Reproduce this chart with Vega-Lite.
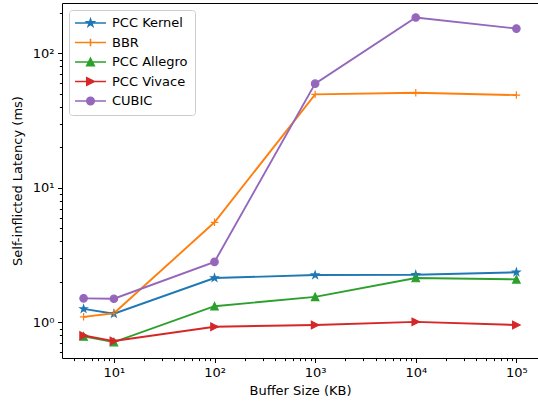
{
  "$schema": "https://vega.github.io/schema/vega-lite/v6.json",
  "width": 476,
  "height": 355,
  "autosize": "none",
  "padding": {"left": 62, "top": 3, "right": 0, "bottom": 46},
  "config": {
    "font": "DejaVu Sans",
    "view": {"stroke": "black", "strokeWidth": 1},
    "axis": {
      "domain": false,
      "grid": false,
      "tickColor": "black",
      "tickWidth": 1,
      "labelColor": "black",
      "titleColor": "black",
      "labelFontSize": 13,
      "titleFontSize": 13,
      "titleFontWeight": "normal",
      "labelOverlap": false,
      "labelFlush": false,
      "labelPadding": 3.5
    }
  },
  "data": {
    "values": [
      {"series": "PCC Kernel", "buffer": 5, "latency": 1.26},
      {"series": "PCC Kernel", "buffer": 10, "latency": 1.16},
      {"series": "PCC Kernel", "buffer": 100, "latency": 2.14},
      {"series": "PCC Kernel", "buffer": 1000, "latency": 2.25},
      {"series": "PCC Kernel", "buffer": 10000, "latency": 2.26},
      {"series": "PCC Kernel", "buffer": 100000, "latency": 2.36},
      {"series": "BBR", "buffer": 5, "latency": 1.10},
      {"series": "BBR", "buffer": 10, "latency": 1.17},
      {"series": "BBR", "buffer": 100, "latency": 5.55},
      {"series": "BBR", "buffer": 1000, "latency": 49.6},
      {"series": "BBR", "buffer": 10000, "latency": 51},
      {"series": "BBR", "buffer": 100000, "latency": 49},
      {"series": "PCC Allegro", "buffer": 5, "latency": 0.787},
      {"series": "PCC Allegro", "buffer": 10, "latency": 0.714},
      {"series": "PCC Allegro", "buffer": 100, "latency": 1.32},
      {"series": "PCC Allegro", "buffer": 1000, "latency": 1.55},
      {"series": "PCC Allegro", "buffer": 10000, "latency": 2.14},
      {"series": "PCC Allegro", "buffer": 100000, "latency": 2.09},
      {"series": "PCC Vivace", "buffer": 5, "latency": 0.80},
      {"series": "PCC Vivace", "buffer": 10, "latency": 0.727},
      {"series": "PCC Vivace", "buffer": 100, "latency": 0.929},
      {"series": "PCC Vivace", "buffer": 1000, "latency": 0.957},
      {"series": "PCC Vivace", "buffer": 10000, "latency": 1.01},
      {"series": "PCC Vivace", "buffer": 100000, "latency": 0.957},
      {"series": "CUBIC", "buffer": 5, "latency": 1.51},
      {"series": "CUBIC", "buffer": 10, "latency": 1.50},
      {"series": "CUBIC", "buffer": 100, "latency": 2.82},
      {"series": "CUBIC", "buffer": 1000, "latency": 59.6},
      {"series": "CUBIC", "buffer": 10000, "latency": 185},
      {"series": "CUBIC", "buffer": 100000, "latency": 153}
    ]
  },
  "encoding": {
    "x": {
      "field": "buffer",
      "type": "quantitative",
      "title": "Buffer Size (KB)",
      "scale": {"type": "log", "domain": [3.05, 164000], "nice": false},
      "axis": {
        "values": [4,5,6,7,8,9,10,20,30,40,50,60,70,80,90,100,200,300,400,500,600,700,800,900,1000,2000,3000,4000,5000,6000,7000,8000,9000,10000,20000,30000,40000,50000,60000,70000,80000,90000,100000],
        "labelExpr": "datum.value==10?'10¹':datum.value==100?'10²':datum.value==1000?'10³':datum.value==10000?'10⁴':datum.value==100000?'10⁵':''",
        "tickSize": {"condition": {"test": "indexof([1,10,100,1000,10000,100000], datum.value) >= 0", "value": 4.5}, "value": 2.6},
        "titlePadding": 5
      }
    },
    "y": {
      "field": "latency",
      "type": "quantitative",
      "title": "Self-inflicted Latency (ms)",
      "scale": {"type": "log", "domain": [0.544, 237], "nice": false},
      "axis": {
        "values": [0.6,0.7,0.8,0.9,1,2,3,4,5,6,7,8,9,10,20,30,40,50,60,70,80,90,100,200],
        "labelExpr": "datum.value==1?'10⁰':datum.value==10?'10¹':datum.value==100?'10²':''",
        "tickSize": {"condition": {"test": "indexof([1,10,100,1000,10000,100000], datum.value) >= 0", "value": 4.5}, "value": 2.6},
        "titlePadding": 8
      }
    },
    "color": {
      "field": "series",
      "type": "nominal",
      "scale": {
        "domain": ["PCC Kernel", "BBR", "PCC Allegro", "PCC Vivace", "CUBIC"],
        "range": ["#1f77b4", "#ff7f0e", "#2ca02c", "#d62728", "#9467bd"]
      },
      "legend": null
    }
  },
  "layer": [
    {
      "mark": {"type": "line", "strokeWidth": 1.9}
    },
    {
      "mark": {"type": "point", "filled": true, "size": 56, "strokeWidth": 1.2, "opacity": 1},
      "encoding": {
        "shape": {
          "field": "series",
          "type": "nominal",
          "scale": {
            "domain": ["PCC Kernel", "BBR", "PCC Allegro", "PCC Vivace", "CUBIC"],
            "range": [
              "M0,-1L0.2245,-0.309L0.951,-0.309L0.363,0.118L0.588,0.809L0,0.382L-0.588,0.809L-0.363,0.118L-0.951,-0.309L-0.2245,-0.309Z",
              "M-1,0H1M0,-1V1",
              "M0,-1L1,1L-1,1Z",
              "M1,0L-1,-1L-1,1Z",
              "M1,0A1,1,0,1,1,-1,0A1,1,0,1,1,1,0Z"
            ]
          },
          "legend": null
        },
        "stroke": {
          "field": "series",
          "type": "nominal",
          "scale": {
            "domain": ["PCC Kernel", "BBR", "PCC Allegro", "PCC Vivace", "CUBIC"],
            "range": ["#1f77b4", "#ff7f0e", "#2ca02c", "#d62728", "#9467bd"]
          },
          "legend": null
        }
      }
    },
    {
      "mark": {"type": "point", "filled": true, "opacity": 0, "size": 56},
      "encoding": {
        "shape": {
          "field": "series",
          "type": "nominal",
          "scale": {
            "domain": ["PCC Kernel", "BBR", "PCC Allegro", "PCC Vivace", "CUBIC"],
            "range": [
              "M-4.14,0H4.14M0,-1L0.2245,-0.309L0.951,-0.309L0.363,0.118L0.588,0.809L0,0.382L-0.588,0.809L-0.363,0.118L-0.951,-0.309L-0.2245,-0.309Z",
              "M-4.14,0H4.14M0,-1V1",
              "M-4.14,0H4.14M0,-1L1,1L-1,1Z",
              "M-4.14,0H4.14M1,0L-1,-1L-1,1Z",
              "M-4.14,0H4.14M1,0A1,1,0,1,1,-1,0A1,1,0,1,1,1,0Z"
            ]
          },
          "legend": {
            "title": null,
            "orient": "top-left",
            "offset": 7,
            "padding": 6.5,
            "symbolOffset": 8.5,
            "labelOffset": 15,
            "rowPadding": 4.5,
            "labelFontSize": 13,
            "labelColor": "black",
            "strokeColor": "#cccccc",
            "fillColor": "rgba(255,255,255,0.8)",
            "cornerRadius": 3,
            "symbolStrokeWidth": 1.6,
            "symbolOpacity": 1,
            "symbolSize": 56,
            "symbolFillColor": {"expr": "scale('color', datum.value)"},
            "symbolStrokeColor": {"expr": "scale('color', datum.value)"}
          }
        }
      }
    }
  ],
  "resolve": {"scale": {"shape": "independent"}}
}
